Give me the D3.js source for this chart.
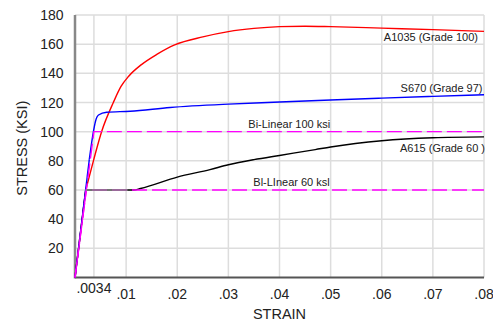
<!DOCTYPE html>
<html>
<head>
<meta charset="utf-8">
<script src="https://cdn.jsdelivr.net/npm/d3@7"></script>
<style>
  body { margin: 0; background: #fff; }
  svg { display: block; font-family: "Liberation Sans", Arial, sans-serif; }
</style>
</head>
<body>
<svg id="chart" width="493" height="322"></svg>
<script>
// strain / stress (ksi)
const a1035 = [
  [0, 0], [0.0021, 60], [0.0036, 80], [0.0052, 100], [0.0075, 120], [0.009, 131],
  [0.0105, 138], [0.013, 146], [0.016, 153], [0.0195, 159.5], [0.025, 165], [0.03, 168.6],
  [0.035, 170.8], [0.04, 172], [0.045, 172.3], [0.05, 172], [0.06, 171],
  [0.07, 170], [0.08, 168.8]
];
const s670 = [
  [0, 0], [0.0028, 81], [0.0036, 100], [0.004, 107], [0.0046, 111.4], [0.0062, 113.3],
  [0.0108, 114], [0.0186, 116.6], [0.03, 118.9], [0.04, 120.3], [0.05, 121.7],
  [0.06, 123], [0.07, 124.2], [0.08, 125.3]
];
const a615 = [
  [0, 0], [0.0021, 60], [0.0115, 60], [0.0128, 61], [0.02, 68.8], [0.0264, 74],
  [0.03, 77.3], [0.035, 80.8], [0.04, 83.7], [0.047, 87.7], [0.05, 89.5],
  [0.06, 93.8], [0.07, 95.8], [0.08, 96.4]
];
const a615Plateau = [[0.0021, 60], [0.0103, 60]];
const biLinear100 = [[0, 0], [0.0037, 100], [0.08, 100]];
const biLinear60 = [[0, 0], [0.0022, 60], [0.08, 60]];

const xTicks = [0.0037, 0.01, 0.02, 0.03, 0.04, 0.05, 0.06, 0.07, 0.08];
const xTickLabels = [".0034", ".01", ".02", ".03", ".04", ".05", ".06", ".07", ".08"];
const yTicks = [20, 40, 60, 80, 100, 120, 140, 160, 180];

const svg = d3.select("#chart");
const margin = {left: 75, right: 9, top: 15, bottom: 44.5};
const W = 493, H = 322;

const x = d3.scaleLinear().domain([0, 0.08]).range([margin.left, W - margin.right]);
const y = d3.scaleLinear().domain([0, 180]).range([H - margin.bottom, margin.top]);

// grid
const grid = svg.append("g").attr("stroke", "#dddddd").attr("stroke-width", 1.5);
grid.selectAll(".h").data(yTicks).join("line")
    .attr("x1", x(0)).attr("x2", x(0.08))
    .attr("y1", d => y(d)).attr("y2", d => y(d));
grid.selectAll(".v").data(xTicks).join("line")
    .attr("x1", d => x(d)).attr("x2", d => x(d))
    .attr("y1", y(0)).attr("y2", y(180));

// y tick labels
svg.append("g").attr("font-size", 14).attr("fill", "#222").attr("text-anchor", "end")
  .selectAll("text").data(yTicks).join("text")
    .attr("x", x(0) - 11.5).attr("y", d => y(d)).attr("dy", "0.36em")
    .text(d => d);

// x tick labels (the first one sits higher)
svg.append("g").attr("font-size", 14).attr("fill", "#222").attr("text-anchor", "middle")
  .selectAll("text").data(xTicks).join("text")
    .attr("x", d => x(d))
    .attr("y", (d, i) => i === 0 ? y(0) + 15.5 : y(0) + 21.5)
    .text((d, i) => xTickLabels[i]);

// axes lines
svg.append("line").attr("x1", x(0)).attr("x2", x(0.08)).attr("y1", y(0)).attr("y2", y(0))
    .attr("stroke", "#555").attr("stroke-width", 2);
svg.append("line").attr("x1", x(0)).attr("x2", x(0)).attr("y1", y(0) + 1).attr("y2", y(180))
    .attr("stroke", "#888").attr("stroke-width", 2.5);

const smooth = d3.line().x(d => x(d[0])).y(d => y(d[1])).curve(d3.curveMonotoneX);
const straight = d3.line().x(d => x(d[0])).y(d => y(d[1]));

// elastic part straight, the rest smoothed
const curves = svg.append("g").attr("fill", "none").attr("stroke-width", 1.4);
function series(data, color) {
  curves.append("path").attr("d", straight(data.slice(0, 2))).attr("stroke", color);
  curves.append("path").attr("d", smooth(data.slice(1))).attr("stroke", color);
}
series(a1035, "#ff0000");
series(a615, "#000");
series(s670, "#0000ff");
curves.append("path").attr("d", straight(biLinear100)).attr("stroke", "#ff00ff")
    .attr("stroke-dasharray", "15,5");
curves.append("path").attr("d", straight(biLinear60)).attr("stroke", "#ff00ff")
    .attr("stroke-dasharray", "15,5").attr("stroke-dashoffset", 6);
curves.append("path").attr("d", straight(a615Plateau)).attr("stroke", "#888").attr("stroke-width", 1.6);

// series labels
const labels = svg.append("g").attr("font-size", 11).attr("fill", "#222");
labels.append("text").attr("x", x(0.08) - 6).attr("y", 40.7).attr("text-anchor", "end").text("A1035 (Grade 100)");
labels.append("text").attr("x", x(0.08) - 1.5).attr("y", 92).attr("text-anchor", "end").text("S670 (Grade 97)");
labels.append("text").attr("x", x(0.08) + 1).attr("y", 151.7).attr("text-anchor", "end").text("A615 (Grade 60 )");
labels.append("text").attr("x", 248.3).attr("y", 127.7).text("Bi-Linear 100 ksi");
labels.append("text").attr("x", 253.3).attr("y", 186).text("Bl-LInear 60 ksl");

// axis titles
svg.append("text").attr("x", x(0.04)).attr("y", 318.5).attr("text-anchor", "middle")
    .attr("font-size", 14.5).attr("fill", "#222").text("STRAIN");
svg.append("text").attr("transform", `translate(27, ${(y(0) + y(180)) / 2 + 2}) rotate(-90)`)
    .attr("text-anchor", "middle").attr("font-size", 14.5).attr("fill", "#222").text("STRESS (KSI)");
</script>
</body>
</html>
